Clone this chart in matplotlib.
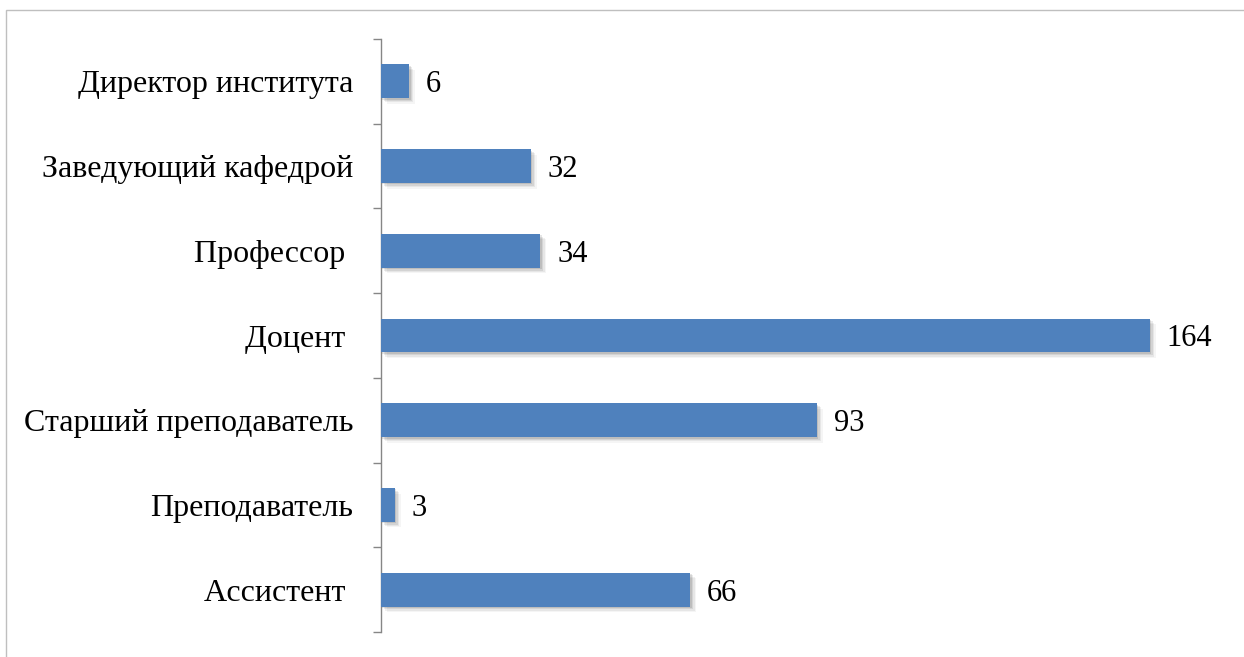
import matplotlib

matplotlib.use("Agg")

import matplotlib.pyplot as plt
from matplotlib.patches import Rectangle
from matplotlib import patheffects


categories = [
    "Директор института",
    "Заведующий кафедрой",
    "Профессор ",
    "Доцент ",
    "Старший преподаватель",
    "Преподаватель",
    "Ассистент ",
]
values = [6, 32, 34, 164, 93, 3, 66]

BAR_COLOR = "#4F81BD"
AXIS_COLOR = "#868686"


def main():
    plt.rcParams["font.family"] = ["Liberation Serif", "DejaVu Serif"]

    fig = plt.figure(figsize=(12.44, 6.57), dpi=100)
    ax = fig.add_axes([381 / 1244, 1 - 632 / 657, 844 / 1244, 593 / 657])

    # top category first
    ypos = list(range(len(categories)))[::-1]

    # soft shadow: a few gray offset layers
    shadow_effects = []
    for off, a in [(4, 0.04), (3, 0.06), (2, 0.08), (1, 0.10)]:
        shadow_effects.append(
            patheffects.SimplePatchShadow(offset=(off, -off), shadow_rgbFace="black", alpha=a)
        )
    shadow_effects.append(patheffects.Normal())

    bars = ax.barh(ypos, values, height=0.4, color=BAR_COLOR, zorder=3)
    for bar in bars:
        bar.set_path_effects(shadow_effects)

    for y, v in zip(ypos, values):
        ax.annotate(
            str(v),
            xy=(v, y),
            xytext=(12, -2.5),
            textcoords="offset points",
            va="center",
            ha="left",
            fontsize=22,
        )

    ax.set_xlim(0, 180)
    ax.set_ylim(-0.5, len(categories) - 0.5)

    ax.set_yticks(ypos)
    ax.set_yticklabels(categories, fontsize=23)
    ax.tick_params(axis="y", length=0, pad=20)

    # tick marks between categories
    ax.set_yticks([i - 0.5 for i in range(len(categories) + 1)], minor=True)
    ax.tick_params(axis="y", which="minor", length=6, width=1, color=AXIS_COLOR, direction="out")

    ax.set_xticks([])
    for side in ["top", "right", "bottom"]:
        ax.spines[side].set_visible(False)
    ax.spines["left"].set_color(AXIS_COLOR)
    ax.spines["left"].set_linewidth(1)

    border = Rectangle(
        (6 / 1244, -0.1),
        2,
        1 - 10 / 657 + 0.1,
        transform=fig.transFigure,
        fill=False,
        edgecolor="#BFBFBF",
        linewidth=1,
    )
    fig.add_artist(border)

    fig.savefig("out.png", dpi=100)
    plt.close(fig)


if __name__ == "__main__":
    main()
